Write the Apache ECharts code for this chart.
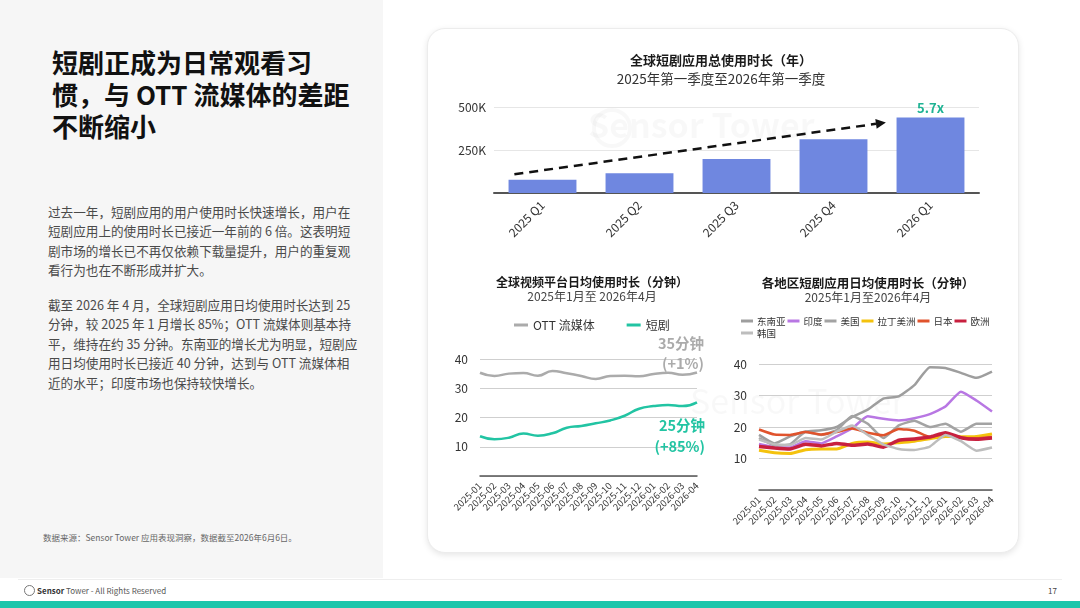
<!DOCTYPE html>
<html>
<head>
<meta charset="utf-8">
<script src="https://cdn.jsdelivr.net/npm/echarts@6/dist/echarts.min.js"></script>
<style>
  html, body { margin: 0; padding: 0; width: 1080px; height: 608px; overflow: hidden; background: #fff;
    font-family: "Noto Sans CJK SC", "Noto Sans", sans-serif; }
  #left { position: absolute; left: 0; top: 0; width: 383px; height: 578px; background: #f6f6f6; }
  #headline { position: absolute; left: 52px; top: 46px; font-size: 26px; font-weight: 700; line-height: 32px; color: #111; }
  .para { position: absolute; left: 48px; font-size: 12.6px; line-height: 19.4px; color: #4a4a4a; }
  #p1 { top: 202px; }
  #p2 { top: 295px; }
  #source { position: absolute; left: 43px; top: 531px; font-size: 8.5px; color: #666; }
  #card { position: absolute; left: 427px; top: 28px; width: 590px; height: 523px; background: #fff;
    border-radius: 18px; border: 1px solid #ececec; box-shadow: 0 2px 6px rgba(0,0,0,0.10); }
  #rule { position: absolute; left: 18px; right: 18px; top: 579px; height: 1px; background: #eeeeee; }
  #foot { position: absolute; left: 24px; top: 585px; font-size: 8px; color: #555; }
  #foot b { color: #333; }
  #foot .logo { display: inline-block; width: 9px; height: 9px; border: 1px solid #777; border-radius: 50%; vertical-align: -2px; margin-right: 2px; }
  #page { position: absolute; left: 1048px; top: 585px; font-size: 8px; color: #444; }
  #band { position: absolute; left: 0; top: 601px; width: 1080px; height: 7px; background: #1dc6ab; }
  #chart { position: absolute; left: 0; top: 0; width: 1080px; height: 608px; }
</style>
</head>
<body>
<div id="left"></div>
<div id="headline">短剧正成为日常观看习<br>惯，与 OTT 流媒体的差距<br>不断缩小</div>
<div class="para" id="p1">过去一年，短剧应用的用户使用时长快速增长，用户在<br>短剧应用上的使用时长已接近一年前的 6 倍。这表明短<br>剧市场的增长已不再仅依赖下载量提升，用户的重复观<br>看行为也在不断形成并扩大。</div>
<div class="para" id="p2">截至 2026 年 4 月，全球短剧应用日均使用时长达到 25<br>分钟，较 2025 年 1 月增长 85%；OTT 流媒体则基本持<br>平，维持在约 35 分钟。东南亚的增长尤为明显，短剧应<br>用日均使用时长已接近 40 分钟，达到与 OTT 流媒体相<br>近的水平；印度市场也保持较快增长。</div>
<div id="source">数据来源：Sensor Tower 应用表现洞察，数据截至2026年6月6日。</div>
<div id="card"></div>
<div id="rule"></div>
<div id="foot"><span class="logo"></span><b>Sensor</b> Tower - All Rights Reserved</div>
<div id="page">17</div>
<div id="band"></div>
<div id="chart"></div>
<script>
// 季度总使用时长（年）
const quarters = ['2025 Q1', '2025 Q2', '2025 Q3', '2025 Q4', '2026 Q1'];
const totalYears = [77000, 115000, 197000, 313000, 439000];
const totalTicks = ['0', '250K', '500K'];

// 月份
const months = ['2025-01', '2025-02', '2025-03', '2025-04', '2025-05', '2025-06', '2025-07', '2025-08',
  '2025-09', '2025-10', '2025-11', '2025-12', '2026-01', '2026-02', '2026-03', '2026-04'];

// 全球视频平台日均使用时长（分钟）
const ottMinutes = [35.3, 34.2, 35.0, 35.2, 34.3, 35.9, 35.1, 34.2, 33.2, 34.2, 34.3, 34.1, 34.9, 35.3, 34.6, 35.4];
const dramaMinutes = [13.6, 12.6, 13.1, 14.5, 13.8, 14.6, 16.5, 17.1, 18.0, 19.0, 20.6, 23.0, 23.9, 24.3, 23.9, 25.2];
const ottNote = '35分钟\n(+1%)';
const dramaNote = '25分钟\n(+85%)';

// 各地区短剧应用日均使用时长（分钟）
const regionNames = ['东南亚', '印度', '美国', '拉丁美洲', '日本', '欧洲', '韩国'];
const seaMinutes = [17.5, 14.8, 17.0, 18.6, 19.0, 20.0, 23.2, 25.5, 29.0, 29.7, 33.3, 39.0, 38.7, 37.2, 35.6, 37.6];
const indiaMinutes = [14.6, 13.6, 13.5, 15.5, 14.8, 17.0, 19.6, 23.4, 22.6, 22.1, 22.8, 24.1, 26.5, 31.2, 28.4, 24.9];
const usMinutes = [16.5, 14.2, 14.5, 18.4, 17.5, 19.0, 23.5, 21.0, 16.5, 20.5, 22.0, 20.0, 21.0, 18.5, 21.0, 21.0];
const latamMinutes = [12.6, 11.8, 11.6, 12.8, 13.0, 13.0, 14.8, 15.2, 14.6, 15.0, 15.5, 16.3, 17.0, 16.9, 17.0, 17.8];
const japanMinutes = [19.2, 17.6, 17.5, 18.4, 17.6, 18.4, 19.5, 18.2, 17.4, 19.4, 18.8, 16.8, 17.8, 16.6, 16.4, 16.8];
const europeMinutes = [13.8, 13.3, 13.0, 14.5, 14.0, 14.8, 14.2, 14.6, 13.6, 15.8, 16.2, 16.8, 18.2, 16.6, 16.1, 16.5];
const koreaMinutes = [16.0, 14.5, 14.3, 16.5, 16.0, 18.5, 20.5, 17.5, 14.5, 13.0, 12.7, 13.8, 17.5, 15.5, 12.5, 13.5];

const FONT = '"Noto Sans CJK SC", "Noto Sans", sans-serif';
const regionData = [seaMinutes, indiaMinutes, usMinutes, latamMinutes, japanMinutes, europeMinutes, koreaMinutes];
const regionColors = ['#9e9e9e', '#b877e3', '#a3a3a3', '#f4c20d', '#e0532c', '#c8203f', '#bdbdbd'];
const regionWidths = [2.5, 2.5, 2.5, 3, 2.5, 3.5, 2.5];

const chart = echarts.init(document.getElementById('chart'), null, { renderer: 'canvas' });

const monthAxis = (gridIndex) => ({
  type: 'category', gridIndex: gridIndex, data: months, boundaryGap: false,
  axisLine: { lineStyle: { color: '#555', width: 1.5 } },
  axisTick: { show: false },
  axisLabel: { rotate: 45, fontSize: 9.5, color: '#333', margin: 8, interval: 0, fontFamily: FONT }
});
const minuteAxis = (gridIndex) => ({
  type: 'value', gridIndex: gridIndex, min: 0, max: 40, interval: 10,
  axisLine: { show: false }, axisTick: { show: false },
  axisLabel: { showMinLabel: false, fontSize: 12, color: '#333', margin: 12, fontFamily: FONT },
  splitLine: { lineStyle: { color: '#cfcfcf', width: 1 } }
});

const option = {
  animation: false,
  textStyle: { fontFamily: FONT },
  title: [
    { text: '全球短剧应用总使用时长（年）', subtext: '2025年第一季度至2026年第一季度',
      left: 716, top: 49, textAlign: 'center', itemGap: 5,
      textStyle: { fontSize: 13, fontWeight: 'bold', color: '#1a1a1a', fontFamily: FONT },
      subtextStyle: { fontSize: 13.5, color: '#333', fontFamily: FONT } },
    { text: '全球视频平台日均使用时长（分钟）', subtext: '2025年1月至 2026年4月',
      left: 587, top: 271, textAlign: 'center', itemGap: 2,
      textStyle: { fontSize: 12, fontWeight: 'bold', color: '#1a1a1a', fontFamily: FONT },
      subtextStyle: { fontSize: 12, color: '#444', fontFamily: FONT } },
    { text: '各地区短剧应用日均使用时长（分钟）', subtext: '2025年1月至2026年4月',
      left: 863, top: 272, textAlign: 'center', itemGap: 2,
      textStyle: { fontSize: 12.5, fontWeight: 'bold', color: '#1a1a1a', fontFamily: FONT },
      subtextStyle: { fontSize: 12, color: '#444', fontFamily: FONT } }
  ],
  legend: [
    { data: ['OTT 流媒体', '短剧'], left: 509, top: 314, icon: 'rect', itemWidth: 14, itemHeight: 3,
      itemGap: 32, textStyle: { fontSize: 12, color: '#333', fontFamily: FONT } },
    { data: regionNames, left: 736, top: 311, width: 258, icon: 'rect', itemWidth: 12, itemHeight: 3,
      itemGap: 2, textStyle: { fontSize: 9.5, color: '#333', lineHeight: 10, padding: [0, 0, 0, -1], fontFamily: FONT } }
  ],
  grid: [
    { left: 494, right: 101, top: 107, bottom: 415 },
    { left: 480, right: 383, top: 359, bottom: 132 },
    { left: 759, right: 88, top: 364, bottom: 118 }
  ],
  xAxis: [
    { type: 'category', gridIndex: 0, data: quarters,
      axisLine: { lineStyle: { color: '#555', width: 2 } }, axisTick: { show: false },
      axisLabel: { rotate: 45, fontSize: 12, color: '#333', margin: 10, fontFamily: FONT } },
    monthAxis(1),
    monthAxis(2)
  ],
  yAxis: [
    { type: 'value', gridIndex: 0, min: 0, max: 500000, interval: 250000,
      axisLine: { show: false }, axisTick: { show: false },
      axisLabel: { showMinLabel: false, fontSize: 12, color: '#333', margin: 8, fontFamily: FONT,
        formatter: (v) => totalTicks[v / 250000] },
      splitLine: { lineStyle: { color: '#e6e6e6' } } },
    minuteAxis(1),
    minuteAxis(2)
  ],
  series: [
    { type: 'bar', xAxisIndex: 0, yAxisIndex: 0, data: totalYears, barCategoryGap: '30%',
      itemStyle: { color: '#6f87e0' },
      label: { show: true, position: 'top', distance: 3, fontSize: 13, fontWeight: 'bold', color: '#1fb394',
        fontFamily: FONT,
        formatter: (p) => p.dataIndex === totalYears.length - 1
          ? (totalYears[p.dataIndex] / totalYears[0]).toFixed(1) + 'x' : '' } },
    { name: 'OTT 流媒体', type: 'line', xAxisIndex: 1, yAxisIndex: 1, data: ottMinutes, smooth: true,
      showSymbol: false, lineStyle: { color: '#ababab', width: 2.5 }, itemStyle: { color: '#ababab' } },
    { name: '短剧', type: 'line', xAxisIndex: 1, yAxisIndex: 1, data: dramaMinutes, smooth: true,
      showSymbol: false, lineStyle: { color: '#22c4a3', width: 2.5 }, itemStyle: { color: '#22c4a3' } }
  ].concat(regionNames.map((name, i) => ({
    name: name, type: 'line', xAxisIndex: 2, yAxisIndex: 2, data: regionData[i], smooth: 0.15,
    showSymbol: false, lineStyle: { color: regionColors[i], width: regionWidths[i] },
    itemStyle: { color: regionColors[i] }
  })))
};

chart.setOption(option);

// 虚线趋势箭头（按坐标轴换算像素）
const p0 = chart.convertToPixel({ xAxisIndex: 0, yAxisIndex: 0 }, [0, 109000]);
const p4 = chart.convertToPixel({ xAxisIndex: 0, yAxisIndex: 0 }, [4, 410000]);
const band = (p4[0] - p0[0]) / 4;
const x1 = p0[0] - 0.29 * band, y1 = p0[1];
const x2 = p4[0] - 0.46 * band, y2 = p4[1];
const ang = Math.atan2(y2 - y1, x2 - x1);
const ah = 10, aw = 5;
const bx = x2 - ah * Math.cos(ang), by = y2 - ah * Math.sin(ang);

// 折线末端注释
const last = months.length - 1;
const ottEnd = chart.convertToPixel({ xAxisIndex: 1, yAxisIndex: 1 }, [last, ottMinutes[last]]);
const dramaEnd = chart.convertToPixel({ xAxisIndex: 1, yAxisIndex: 1 }, [last, dramaMinutes[last]]);

chart.setOption({
  graphic: [
    { type: 'text', left: 588, top: 108, z: -1, silent: true,
      style: { text: 'Sensor Tower', fontSize: 34, fontWeight: 'bold', fill: 'rgba(0,0,0,0.028)', fontFamily: FONT } },
    { type: 'circle', shape: { cx: 612, cy: 128, r: 18 }, z: -1, silent: true,
      style: { fill: 'none', stroke: 'rgba(0,0,0,0.028)', lineWidth: 4 } },
    { type: 'text', left: 690, top: 384, z: -1, silent: true,
      style: { text: 'Sensor Tower', fontSize: 34, fill: 'rgba(0,0,0,0.028)', fontFamily: FONT } },
    { type: 'line', shape: { x1: x1, y1: y1, x2: bx, y2: by }, z: 10, silent: true,
      style: { stroke: '#111', lineWidth: 2.5, lineDash: [9, 6] } },
    { type: 'polygon', z: 10, silent: true,
      shape: { points: [[x2, y2],
        [bx + aw * Math.sin(ang), by - aw * Math.cos(ang)],
        [bx - aw * Math.sin(ang), by + aw * Math.cos(ang)]] },
      style: { fill: '#111' } },
    { type: 'text', x: ottEnd[0] + 7, y: ottEnd[1] + 1, z: 20, silent: true,
      style: { text: ottNote, align: 'right', verticalAlign: 'bottom', fontSize: 14.5, lineHeight: 20,
        fontWeight: 'bold', fill: '#ababab', fontFamily: FONT } },
    { type: 'text', x: dramaEnd[0] + 8, y: dramaEnd[1] + 13, z: 20, silent: true,
      style: { text: dramaNote, align: 'right', verticalAlign: 'top', fontSize: 14.5, lineHeight: 21,
        fontWeight: 'bold', fill: '#22c4a3', fontFamily: FONT } }
  ]
});
</script>
</body>
</html>
